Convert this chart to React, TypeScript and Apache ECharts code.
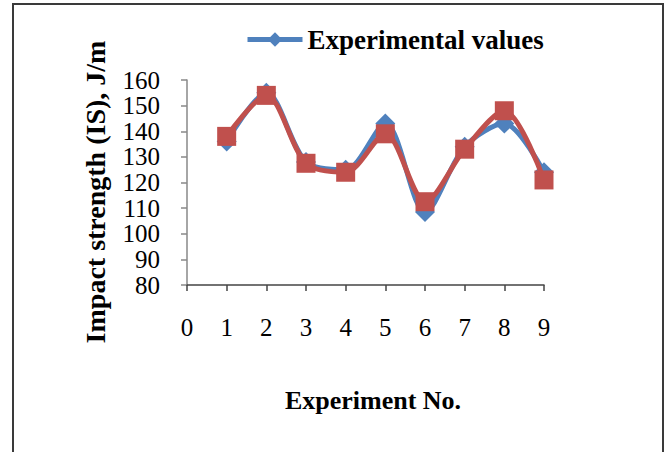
import React, { useEffect, useRef } from "react";
import * as echarts from "echarts";

const experimentNo = [1, 2, 3, 4, 5, 6, 7, 8, 9];
const experimentalValues = [136, 155, 128, 125, 143, 108.5, 134, 143, 124];
const predictedValues = [138, 154, 127.5, 124, 139, 112.5, 133, 148, 121];
const yTicks = { min: 80, max: 160, interval: 10 };
const xTicks = { min: 0, max: 9, interval: 1 };

const FONT = "'Liberation Serif', 'Times New Roman', serif";

export default function App() {
  const ref = useRef<HTMLDivElement>(null);
  useEffect(() => {
    if (!ref.current) return;
    const chart = echarts.init(ref.current, null, { renderer: "svg" });
    chart.setOption({
      animation: false,
      backgroundColor: "#ffffff",
      grid: { left: 187, right: 124, top: 80, bottom: 167 },
      legend: {
        data: ["Experimental values"],
        left: 245,
        top: 26,
        padding: 0,
        itemWidth: 55,
        itemHeight: 18,
        itemGap: 5,
        lineStyle: { width: 5 },
        textStyle: { fontFamily: FONT, fontSize: 27, fontWeight: "bold", color: "#000" },
      },
      xAxis: {
        type: "value",
        min: xTicks.min,
        max: xTicks.max,
        interval: xTicks.interval,
        axisLine: { show: true, lineStyle: { color: "#444", width: 1.5 } },
        axisTick: { show: true, inside: false, length: 6, lineStyle: { color: "#444", width: 1.5 } },
        splitLine: { show: false },
        axisLabel: { fontFamily: FONT, fontSize: 25, color: "#000", margin: 30 },
      },
      yAxis: {
        type: "value",
        min: yTicks.min,
        max: yTicks.max,
        interval: yTicks.interval,
        axisLine: { show: true, lineStyle: { color: "#888", width: 1.5 } },
        axisTick: { show: true, inside: false, length: 6, lineStyle: { color: "#888", width: 1.5 } },
        splitLine: { show: false },
        axisLabel: { fontFamily: FONT, fontSize: 25, color: "#000", margin: 27 },
      },
      graphic: [
        {
          type: "rect",
          shape: { x: 13, y: 4, width: 650, height: 470 },
          style: { fill: "none", stroke: "#3a3a3a", lineWidth: 2 },
          z: 100,
        },
        {
          type: "text",
          x: 95,
          y: 192,
          rotation: Math.PI / 2,
          style: {
            text: "Impact strength (IS), J/m",
            font: `bold 28px ${FONT}`,
            fill: "#000",
            align: "center",
            verticalAlign: "middle",
          },
        },
        {
          type: "text",
          x: 373,
          y: 400,
          style: {
            text: "Experiment No.",
            font: `bold 26px ${FONT}`,
            fill: "#000",
            align: "center",
            verticalAlign: "middle",
          },
        },
      ],
      series: [
        {
          name: "Experimental values",
          type: "line",
          smooth: 0.3,
          data: experimentNo.map((x, i) => [x, experimentalValues[i]]),
          symbol: "diamond",
          symbolSize: 20,
          itemStyle: { color: "#4F81BD" },
          lineStyle: { color: "#4F81BD", width: 5 },
          z: 2,
        },
        {
          name: "Predicted values",
          type: "line",
          smooth: 0.3,
          data: experimentNo.map((x, i) => [x, predictedValues[i]]),
          symbol: "rect",
          symbolSize: 19,
          itemStyle: { color: "#C0504D" },
          lineStyle: { color: "#C0504D", width: 5 },
          z: 3,
        },
      ],
    });
    return () => chart.dispose();
  }, []);
  return (
    <div
      ref={ref}
      style={{ position: "fixed", left: 0, top: 0, width: 668, height: 452 }}
    />
  );
}
